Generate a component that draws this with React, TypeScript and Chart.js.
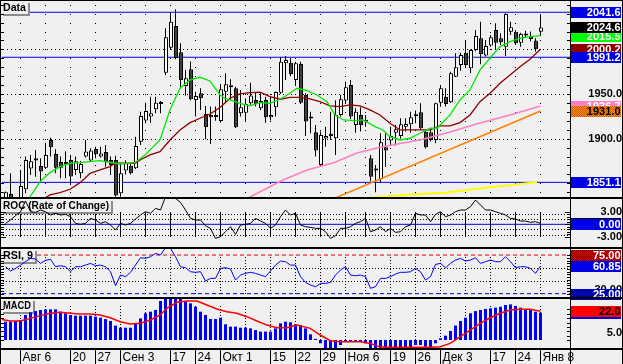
import { useEffect, useRef } from 'react';
import { Chart, registerables } from 'chart.js';

Chart.register(...registerables);

// ---------------- data ----------------
const openP = [1828,1838,1826,1830,1843.4,1866.5,1878.1,1869.5,1867.6,1898.6,
  1882.9,1874,1874,1876.2,1865,1861.3,1880,1875.5,1888.5,1880,
  1885.2,1876.2,1876.2,1838.9,1864.3,1869.8,1866.9,1896.7,1920.3,1924.8,
  1933,1938.8,1974,2002,2026.3,1996.8,1959.1,1977.8,1943.4,1950.9,
  1927.7,1926.6,1926.6,1919.9,1952.7,1958,1956.5,1928.5,1929.2,1939.7,
  1943.4,1934.1,1943.4,1924,1935.2,1951.6,1984.5,1985.2,1965.8,1983.7,
  1949,1923,1907.2,1870.6,1900.1,1905.5,1900.5,1926.6,1942.7,1960.2,
  1915.4,1926.6,1919.5,1878.1,1864.4,1855,1890.4,1897.9,1906.8,1903.1,
  1913.5,1916.2,1925.2,1929.6,1907.9,1907.2,1898.6,1940.4,1947.1,1940.8,
  1969.5,1982.6,1996.4,1978.9,1999.4,2012.5,1993.1,2004.3,2021.8,2012.5,
  2003.1,2019.9,2019.9,2007.6,2017.3,2015.1,2009.9,2019.9];
const highP = [1841,1861.3,1832,1865,1880,1881.8,1887.4,1878,1895.6,1901.2,
  1888.2,1880,1885.6,1881.8,1880,1875.1,1898.6,1889.3,1891.1,1891.1,
  1893,1880,1881,1872,1876,1872.5,1902.3,1930.3,1940.4,1947.1,
  1947.1,1942.3,2023.7,2041.6,2045,2006.9,1977,1986.4,1952.7,1956.5,
  1936.7,1936,1936,1961.3,1973.3,1966.6,1958.3,1954.6,1945.3,1962.8,
  1951.6,1950.9,1947.1,1947.1,1953,1991.2,1992.7,1990.1,1986.3,1986.3,
  1950.9,1930.3,1915.4,1908,1913.5,1930.3,1943,1949,1964,1965.8,
  1934.1,1935.2,1926.6,1881.8,1870.6,1906.1,1906.1,1913.5,1915.4,1922.9,
  1922.9,1930.3,1931.5,1939.7,1909.8,1910.6,1940.4,1960.2,1956.5,1975,
  1995.6,1996.4,2009.9,2000.2,2021.8,2031.1,2010.6,2016.2,2029.3,2018.1,
  2040.4,2031.1,2021.8,2018.8,2021,2020,2012.5,2039.7];
const lowP = [1822,1825,1820,1825,1839,1859.4,1857.5,1852,1866,1880,
  1861.3,1855.7,1855.7,1848.2,1859.4,1855.7,1879,1874,1878.1,1879,
  1868.7,1859.4,1835,1835,1860,1860,1866,1893,1917.3,1918,
  1928.5,1928.5,1971.4,2000,1989,1956.5,1948,1943,1924.8,1932.2,
  1899.4,1894.1,1920,1918,1939.7,1943.4,1912,1924.8,1919.2,1938,
  1936,1932,1918,1920.3,1924.8,1950,1965.8,1970,1960.2,1939,
  1903.1,1906.1,1880,1868.7,1891.1,1898.6,1881.8,1925,1940,1922,
  1906.8,1908,1913.5,1852,1840,1851.2,1868.7,1892.3,1892.3,1900,
  1908,1906.8,1917.3,1910,1889,1897,1894.9,1935.9,1936,1940,
  1969,1976,1980,1973.3,1998,1983.4,1992,2003,1999.4,2005,
  1992.7,2016.2,2005,2003.1,2013,2009,1997.5,2015.1];
const closeP = [1840,1830,1830,1847.1,1876.2,1874.7,1875.5,1863.2,1881.8,1890.4,
  1867.6,1867.6,1871.7,1857.6,1874.7,1871.7,1885.6,1886.7,1882.6,1883.3,
  1873.6,1870.6,1836.3,1861.3,1872.5,1861.3,1891.9,1925.5,1931.1,1928.5,
  1940.4,1939.4,2013.6,2031.1,1990.1,1965.8,1967.7,1944.2,1947.9,1945.3,
  1912.8,1924,1924,1955.4,1961,1957.6,1912.8,1935.2,1938.9,1948.3,
  1938.6,1942.3,1924,1926.6,1952.4,1986.3,1988.2,1972.5,1984.5,1940.4,
  1919.2,1922.5,1886.7,1904.2,1903.1,1903,1926.6,1944.2,1957.6,1924.8,
  1930.3,1915.4,1919,1857.5,1864.3,1896,1886.7,1903.1,1910.6,1916.2,
  1916.5,1924,1925.1,1911.7,1890.4,1898.6,1939.7,1956.5,1938.9,1973.3,
  1980,1993.8,1982.6,1999.4,2015.1,1994.9,2003.9,2013.6,2007.6,2008,
  2039.7,2024.8,2006.9,2017.3,2015.5,2011.7,2000.2,2024.6];

// moving averages / trend lines as [barIndex, value]
const fastMA: [number, number][] = [[4.6,1832.5],[5.6,1840.8],[6.9,1852],[8.9,1862],[10.9,1868.7],[12.9,1872.5],[14.9,1873.2],[16.9,1874.3],[18.9,1875.5],[20.9,1873.4],[22.9,1871.7],[25.9,1873.2],[27.9,1881.8],[30.9,1898.6],[32.9,1932.2],[34.9,1956.5],[36.9,1965.8],[38.9,1968.8],[40.9,1964.7],[42.9,1949],[43.9,1945],[44.9,1943.4],[46.9,1939.7],[48.9,1936.7],[50.9,1940.4],[52.9,1939.7],[54.9,1944.2],[56.9,1950.9],[58.3,1956.5],[60.3,1953.9],[62.3,1949],[64.3,1941.5],[65.9,1926.6],[67.6,1921],[69.9,1920.3],[71.5,1921],[73.9,1913.5],[75.5,1909.8],[76.9,1902.3],[78.9,1898.6],[80.9,1900.5],[82.9,1906.1],[84.9,1911.7],[86.3,1911.7],[87.9,1921],[88.9,1926.6],[90.9,1943.4],[92.9,1954.6],[94.9,1977],[96.9,1990.1],[98.9,2003.1],[100.9,2008.7],[102.9,2012.5],[104.9,2014.3],[107,2015.5]];
const slowMA: [number, number][] = [[7.6,1832.5],[8.9,1837],[10.9,1839.6],[12.9,1843.4],[14.9,1850.8],[15.9,1855.7],[16.9,1861.3],[18.9,1865],[20.9,1868.7],[21.9,1872.5],[25.9,1872.5],[26.9,1876.2],[28.9,1881.8],[30.9,1885.6],[32.9,1898.6],[34.9,1909.8],[36.9,1918],[38.9,1922.9],[40.9,1927.7],[42.9,1935],[44.9,1945.3],[46.9,1950.1],[48.9,1951.6],[50.9,1952],[52.9,1947.1],[54.9,1944.2],[56.9,1946.4],[58.9,1946.4],[60.9,1944.5],[62.9,1941.5],[64.9,1936.7],[66.9,1935.9],[68.9,1937.8],[70.9,1936.7],[72.9,1932.2],[74.9,1926.6],[76.9,1917.3],[78.9,1909.8],[84.9,1909.8],[86.9,1914.3],[88.9,1914.3],[90.9,1918],[92.9,1926.6],[94.9,1941.5],[96.9,1950.9],[98.9,1962.1],[100.9,1971.4],[102.9,1980.7],[104.9,1989],[107,2000.2]];
const pinkMA: [number, number][] = [[48.5,1833.6],[55.5,1853.8],[60.3,1865],[65.5,1872.8],[70.3,1884],[74.3,1889.6],[78.9,1894.7],[82.9,1898.6],[88.9,1907.5],[94.9,1917.6],[100.9,1926.6],[107,1936.7]];
const trendLine: [number, number][] = [[65,1831.3],[107,1931.0]];
const yellowMA: [number, number][] = [[70.9,1832.5],[74.9,1835],[81.5,1837.8],[87.9,1839.6],[96.9,1845.6],[106.3,1851.2]];

const rocVals = [0.23,1.03,2.07,3.03,5.6,3.03,2.87,3.43,3.03,2.23,
  2.63,2.23,2.39,1.83,0.23,0.0,0.23,1.43,1.03,0.23,
  0.63,-0.17,-1.37,0.23,-0.17,0.23,1.27,2.23,3.03,2.63,
  3.83,3.43,6.6,7.0,6.2,5.27,3.43,1.43,1.03,1.03,
  -0.33,-0.97,-3.37,-2.97,-1.77,-0.57,-2.41,-0.17,0.0,0.23,
  1.43,0.79,0.23,-0.97,-0.17,1.83,3.43,2.23,2.63,-0.17,
  -0.57,-0.73,-0.97,-0.97,-1.77,-3.37,-2.73,-0.97,-0.97,-0.57,
  0.23,0.63,1.43,-1.77,-1.37,-0.57,-1.77,-0.97,-1.93,-1.77,
  -0.57,-0.17,2.63,2.23,2.23,0.63,2.39,3.03,1.83,2.23,
  3.03,3.43,3.43,4.23,5.83,4.63,3.43,3.43,3.03,2.63,
  2.23,1.43,1.27,0.79,0.79,0.47,0.63,0.23];
const rsiVals = [59.9,54.3,57.7,62.0,66.4,70.7,69.8,64.2,68.1,69.4,
  59.9,61.2,59.9,53.4,59.9,59.9,62.0,64.2,61.2,62.0,
  59.9,53.4,35.3,49.1,47.0,52.6,62.0,71.5,70.7,72.8,
  77.1,75.0,84.5,83.6,72.8,59.9,58.6,53.4,52.6,53.4,
  41.4,44.8,44.8,57.7,58.6,56.9,42.6,49.1,51.3,52.6,
  51.3,49.1,47.0,54.3,62.0,67.2,66.4,62.0,62.0,47.0,
  39.6,36.2,34.0,38.3,38.3,39.6,49.1,55.6,59.9,49.1,
  48.2,49.1,47.0,31.9,34.0,44.8,44.8,47.0,50.4,52.6,
  52.6,53.4,57.7,53.4,42.6,47.0,62.9,64.2,58.6,64.2,
  68.5,70.7,67.2,68.5,71.5,64.2,66.4,68.5,66.4,66.4,
  72.8,66.4,58.6,59.9,59.9,57.7,51.3,60.85];
const macdHist = [14.0,14.0,14.5,15.3,19.1,21.1,22.1,22.9,23.4,23.4,
  23.4,21.6,20.4,19.1,18.6,18.6,18.6,18.6,17.8,17.1,
  16.0,14.5,11.0,9.4,9.4,9.4,12.7,16.5,20.4,21.6,
  22.9,29.8,33,33,33,32,29.8,28.0,25.4,21.6,
  19.1,16.0,16.0,17.1,12.0,10.2,10.2,9.4,9.4,8.9,
  7.6,6.4,6.4,6.4,8.9,12.7,14.0,13.5,12.0,11.4,
  8.9,4.3,0.8,-2.5,-7,-7,-7,-3.8,-1.3,-1.3,
  -1.3,-1.3,-2.5,-7,-7,-7,-7,-7,-7,-7,
  -7,-7,-3.8,-3.8,-5.1,-5.9,-2.5,1.3,3.3,6.9,
  11.0,14.5,17.0,20.4,22.1,22.9,23.7,24.2,24.7,25.4,
  26.7,27.2,26.0,24.7,23.7,23.7,21.6,20.8];
const macdSignal: [number, number][] = [[-1.06,16.0],[0.94,14.5],[2.94,14.5],[4.94,16.5],[6.94,18.6],[8.94,20.4],[10.94,21.1],[12.94,20.4],[14.94,19.8],[16.94,19.8],[18.94,19.1],[20.94,17.0],[22.94,14.0],[24.94,12.2],[26.94,12.7],[28.94,15.3],[30.94,19.1],[32.28,24.2],[34.28,28.8],[36.28,29.8],[38.28,29.8],[40.28,26.7],[42.28,23.7],[44.28,21.6],[46.28,20.4],[48.28,17.8],[50.28,14.5],[52.28,11.4],[54.28,9.4],[56.28,9.4],[58.28,11.4],[60.94,8.9],[62.94,3.8],[64.94,-0.5],[66.94,-1.3],[70.94,-1.3],[72.94,-2.6],[74.94,-5.4],[76.94,-5.6],[84.94,-5.6],[86.94,-5.1],[88.94,-2.6],[90.94,2.5],[92.94,7.6],[94.94,12.7],[96.94,17.0],[98.94,20.4],[100.94,22.9],[102.94,23.4],[104.94,23.4],[107,22.0]];

const priceLevels = [2041.6, 1991.2, 1851.1];
const rocLevel = 0;
const rsiLevels = [75, 25];
const mainGrid = [1900, 1950, 2000];
const mainTicks = [1900, 1950];
const rocTicks = [-3, 3];
const rsiTicks = [30];
const macdTicks = [5];
const rocDots = [-2.5, -1.2, 1.2, 2.5];
const rsiDots = [41.7, 58.3];
const weekIdx = [3, 8, 13, 18, 23, 28, 33, 38, 43, 48, 53, 58, 63, 68, 72, 77, 82, 87, 92, 97, 102, 107];
const xTickIdx = [3, 13, 18, 23, 33, 38, 43, 53, 58, 63, 68, 77, 82, 87, 97, 102, 107];
const xTickLabels = ['Авг 6', '20', '27', 'Сен 3', '17', '24', 'Окт 1', '15', '22', '29', 'Ноя 6', '19', '26', 'Дек 3', '17', '24', 'Янв 8'];
const panelTitles = ['Data', 'ROC (Rate of Change)', 'RSI, 9', 'MACD'];

// ---------------- layout / style ----------------
const W = 623, H = 364;
const BG = '#f0f0f0';
const FF = '"Liberation Sans", Arial, Helvetica, sans-serif';
const BOLD = `bold 11px ${FF}`;
const AXIS_X = 570;
const AXIS_W = 52;
const LABEL_RIGHT = 620.5;
const X_MIN = -0.7, X_MAX = 112.9;
const BLUE = '#0000e8';
const titleMaxW = [23, 106, 30, 28];

const last = <T,>(a: T[]) => a[a.length - 1];
const pts = (a: [number, number][]) => a.map(([x, y]) => ({ x, y }));
const seq = (a: number[]) => a.map((y, x) => ({ x, y }));

function textW(t: string, font: string) {
  const c = document.createElement('canvas').getContext('2d') as CanvasRenderingContext2D;
  c.font = font;
  return c.measureText(t).width;
}

function dither(ctx: CanvasRenderingContext2D, a: string, b: string) {
  const p = document.createElement('canvas');
  p.width = 2; p.height = 2;
  const g = p.getContext('2d') as CanvasRenderingContext2D;
  g.fillStyle = a; g.fillRect(0, 0, 2, 2);
  g.fillStyle = b; g.fillRect(0, 0, 1, 1); g.fillRect(1, 1, 1, 1);
  return ctx.createPattern(p, 'repeat') as CanvasPattern;
}

function yAxis(min: number, max: number, stackWeight: number, weight: number, ticks: number[], digits: number) {
  const fmt = (v: number) => v.toFixed(digits);
  const widest = Math.max(...ticks.map(v => textW(fmt(v), BOLD)));
  return {
    type: 'linear', position: 'right', stack: 'panels', stackWeight, weight, min, max,
    beginAtZero: false,
    grid: { display: false, drawTicks: false }, border: { display: false },
    afterBuildTicks: (s: any) => { s.ticks = ticks.map(v => ({ value: v })); },
    afterFit: (s: any) => { s.width = AXIS_W; s.paddingTop = 0; s.paddingBottom = 0; },
    ticks: {
      font: { family: FF, size: 11, weight: 'bold' }, color: '#000', crossAlign: 'far',
      padding: LABEL_RIGHT - AXIS_X - widest,
      callback: (v: any) => fmt(Number(v)),
    },
  };
}

const decor = {
  id: 'decor',
  beforeDraw(chart: any) {
    const { ctx } = chart;
    ctx.save(); ctx.fillStyle = BG; ctx.fillRect(0, 0, chart.width, chart.height); ctx.restore();
  },
  beforeDatasetsDraw(chart: any) {
    const { ctx, chartArea, scales } = chart;
    const { x, yMain, yRoc, yRsi, yMacd } = scales;
    const L = Math.ceil(chartArea.left), R = Math.floor(chartArea.right);
    const cols = weekIdx.map(i => Math.floor(x.getPixelForValue(i)));
    const py = (s: any, v: number) => Math.round(s.getPixelForValue(v));
    ctx.save();
    ctx.fillStyle = '#000';
    // main: vertical dotted at every 10 price units, horizontal dotted levels
    for (const c of cols) {
      for (let v = 1840; v <= 2050; v += 10) {
        const y = py(yMain, v);
        if (y > yMain.top + 1 && y < yMain.bottom - 1) ctx.fillRect(c, y, 1, 1);
      }
    }
    for (const v of mainGrid) { const y = py(yMain, v); for (let xx = L + 1; xx < R; xx += 4) ctx.fillRect(xx, y, 1, 1); }
    // ROC: solid verticals between +3 / -3, dotted rows
    const r3 = py(yRoc, 3), rm3 = py(yRoc, -3);
    for (const c of cols) ctx.fillRect(c, r3, 1, rm3 - r3);
    for (const v of rocDots) { const y = py(yRoc, v); for (let xx = L + 1; xx < R; xx += 3) ctx.fillRect(xx, y, 1, 1); }
    // RSI: dotted verticals between 75 / 25, dotted rows
    const s75 = py(yRsi, rsiLevels[0]), s25 = py(yRsi, rsiLevels[1]);
    for (const c of cols) for (let y = s75 + 2; y < s25; y += 3) ctx.fillRect(c, y, 1, 1);
    for (const v of rsiDots) { const y = py(yRsi, v); for (let xx = L + 1; xx < R; xx += 3) ctx.fillRect(xx, y, 1, 1); }
    // MACD: dotted verticals
    const m1 = py(yMacd, 26), m0 = py(yMacd, 0);
    for (const c of cols) for (let y = m1; y < m0; y += 3) ctx.fillRect(c, y, 1, 1);
    ctx.restore();
  },
  afterDatasetDraw(chart: any, args: any) {
    const ds = chart.data.datasets[args.index];
    if (!ds || !ds.titleHook) return;
    const { ctx, scales } = chart;
    const tops = [1, scales.yRoc.top + 1, scales.yRsi.top + 1, scales.yMacd.top + 1];
    ctx.save();
    ctx.font = BOLD;
    panelTitles.forEach((t, k) => {
      const w = Math.min(ctx.measureText(t).width, titleMaxW[k]);
      const top = Math.round(tops[k]);
      ctx.fillStyle = '#8c8c8c'; ctx.fillRect(3, top + 2, w + 4, 13);
      ctx.fillStyle = BG; ctx.fillRect(1, top, w + 4, 13);
      ctx.fillStyle = '#000'; ctx.textAlign = 'left'; ctx.textBaseline = 'alphabetic';
      ctx.fillText(t, 3, top + 10, titleMaxW[k]);
    });
    ctx.restore();
  },
  afterDraw(chart: any) {
    const { ctx, scales } = chart;
    const { x, yMain, yRoc, yRsi, yMacd } = scales;
    const py = (s: any, v: number) => Math.round(s.getPixelForValue(v));
    ctx.save();
    ctx.fillStyle = '#000';
    const comb = (s: any, from: number, to: number, step: number, len: number) => {
      for (let v = from; v <= to + 1e-6; v += step) {
        const y = py(s, v);
        if (y > s.top + 1 && y < s.bottom - 1) { ctx.fillRect(AXIS_X - len, y, len, 1); ctx.fillRect(1, y, len, 1); }
      }
    };
    comb(yMain, 1840, 2050, 10, 3);
    comb(yRoc, -3, 3, 0.6, 3);
    comb(yRoc, -3, 3, 3, 5);
    comb(yRsi, 25, 75, 50 / 14, 3);
    comb(yMacd, 0, 25, 10 / 3, 3);

    const box = (s: any, v: number, bg: any, fg: string, text: string) => {
      const y = py(s, v);
      ctx.fillStyle = bg; ctx.fillRect(AXIS_X + 1, y - 5, W - AXIS_X - 3, 11);
      ctx.fillStyle = fg; ctx.font = BOLD; ctx.textAlign = 'right'; ctx.textBaseline = 'alphabetic';
      ctx.fillText(text, LABEL_RIGHT, y + 4);
    };
    const orangeP = dither(ctx, '#ff8c1a', '#c85a00');
    const redP = dither(ctx, '#e00000', '#800000');
    const blueP = dither(ctx, '#0000e0', '#000070');
    box(yMain, last(pinkMA)[1], '#ff80c0', '#fff', last(pinkMA)[1].toFixed(1));
    box(yMain, last(trendLine)[1], orangeP, '#000', last(trendLine)[1].toFixed(1));
    box(yMain, last(slowMA)[1], '#8b0000', '#fff', last(slowMA)[1].toFixed(1));
    box(yMain, last(fastMA)[1], '#00ff00', '#fff', last(fastMA)[1].toFixed(1));
    box(yMain, last(closeP), '#000', '#fff', last(closeP).toFixed(1));
    box(yMain, last(yellowMA)[1], '#ffff00', '#000', last(yellowMA)[1].toFixed(1));
    priceLevels.forEach(v => box(yMain, v, BLUE, '#fff', v.toFixed(1)));
    box(yRoc, last(rocVals), '#000', '#fff', last(rocVals).toFixed(2));
    box(yRoc, rocLevel, BLUE, '#fff', rocLevel.toFixed(2));
    box(yRsi, rsiLevels[0], redP, '#fff', rsiLevels[0].toFixed(2));
    box(yRsi, last(rsiVals), BLUE, '#fff', last(rsiVals).toFixed(2));
    box(yRsi, rsiLevels[1], blueP, '#fff', rsiLevels[1].toFixed(2));
    box(yMacd, last(macdHist), BLUE, '#fff', last(macdHist).toFixed(1));
    box(yMacd, last(macdSignal)[1], '#ff0000', '#000', last(macdSignal)[1].toFixed(1));

    // frame and separators
    ctx.fillStyle = '#000';
    ctx.fillRect(0, 0, W, 1);
    ctx.fillRect(0, 0, 1, H);
    ctx.fillRect(W - 1, 0, 1, H);
    ctx.fillRect(AXIS_X, 0, 1, H);
    [yMain.bottom, yRoc.bottom, yRsi.bottom].forEach((b: number) => ctx.fillRect(0, Math.round(b) - 1, W, 2));
    const xb = Math.round(yMacd.bottom);
    ctx.fillRect(0, xb, W, 2);
    xTickIdx.forEach(i => ctx.fillRect(Math.floor(x.getPixelForValue(i)), xb + 2, 1, H - xb));
    ctx.restore();
  },
};

function buildConfig(): any {
  const refLine = (axis: string, v: number, color: string, order: number, dash: number[] = [], hook = false) => ({
    type: 'line', yAxisID: axis, xAxisID: 'x', data: [{ x: X_MIN, y: v }, { x: X_MAX, y: v }],
    borderColor: color, borderWidth: 1, borderDash: dash, pointRadius: 0, order, titleHook: hook,
  });
  const line = (axis: string, data: any[], color: string, width: number, order: number) => ({
    type: 'line', yAxisID: axis, xAxisID: 'x', data, borderColor: color, borderWidth: width,
    pointRadius: 0, tension: 0, fill: false, order,
  });
  const datasets = [
    refLine('yMain', priceLevels[0], BLUE, 46),
    refLine('yMain', priceLevels[1], BLUE, 45),
    refLine('yMain', priceLevels[2], BLUE, 44),
    refLine('yRoc', rocLevel, BLUE, 43),
    refLine('yRsi', rsiLevels[0], '#e00000', 42, [4, 3]),
    refLine('yRsi', rsiLevels[1], '#0000e0', 41, [4, 3], true),
    {
      type: 'bar', yAxisID: 'yMain', xAxisID: 'x', grouped: false, order: 30,
      data: lowP.map((l, i) => ({ x: i, y: [l, highP[i]] })),
      backgroundColor: '#000', borderWidth: 0, maxBarThickness: 1, barThickness: 1, inflateAmount: 0,
    },
    {
      type: 'bar', yAxisID: 'yMain', xAxisID: 'xBody', grouped: false, order: 29,
      data: openP.map((o, i) => ({ x: i, y: [o, closeP[i]] })),
      backgroundColor: openP.map((o, i) => (closeP[i] >= o ? '#ffffff' : '#404040')),
      borderColor: '#000', borderWidth: 1, borderSkipped: false, maxBarThickness: 4, barThickness: 4,
      minBarLength: 2, inflateAmount: 0,
    },
    line('yMain', pts(yellowMA), '#ffff00', 2, 20),
    line('yMain', pts(trendLine), '#ff7f00', 1.5, 19),
    line('yMain', pts(pinkMA), '#ff80c0', 1.5, 18),
    line('yMain', pts(slowMA), '#900000', 1.3, 17),
    line('yMain', pts(fastMA), '#00e800', 1.3, 16),
    line('yRoc', seq(rocVals), '#000', 1, 10),
    line('yRsi', seq(rsiVals), '#0000ff', 1, 10),
    {
      type: 'bar', yAxisID: 'yMacd', xAxisID: 'x', grouped: false, order: 12,
      data: macdHist.map((v, i) => ({ x: i, y: [0, v] })),
      backgroundColor: '#0000ff', borderWidth: 0, maxBarThickness: 3, barThickness: 3, inflateAmount: 0,
    },
    line('yMacd', pts(macdSignal), '#ff0000', 1.5, 5),
  ];
  return {
    type: 'bar',
    data: { datasets },
    plugins: [decor],
    options: {
      animation: false, responsive: false, devicePixelRatio: 1, events: [],
      layout: { padding: { top: 2, left: 2, right: 1, bottom: 0 } },
      plugins: { legend: { display: false }, tooltip: { enabled: false }, title: { display: false } },
      scales: {
        x: {
          type: 'linear', position: 'bottom', min: X_MIN, max: X_MAX, offset: false,
          grid: { display: false, drawTicks: false }, border: { display: false },
          afterBuildTicks: (s: any) => { s.ticks = xTickIdx.map(v => ({ value: v })); },
          afterFit: (s: any) => { s.height = 16; s.paddingLeft = 0; s.paddingRight = 0; },
          ticks: {
            autoSkip: false, maxRotation: 0, minRotation: 0, align: 'start', labelOffset: 2, padding: 2,
            font: { family: FF, size: 12 }, color: '#000',
            callback: (_v: any, idx: number) => xTickLabels[idx],
          },
        },
        xBody: {
          type: 'linear', position: 'bottom', display: false, offset: false,
          min: X_MIN - 0.1, max: X_MAX - 0.1,
        },
        yMain: yAxis(1833.6, 2053.1, 196, 1, mainTicks, 1),
        yRoc: yAxis(-5.68, 6.31, 50, 2, rocTicks, 2),
        yRsi: yAxis(19.4, 84.1, 50, 3, rsiTicks, 2),
        yMacd: yAxis(-6.1, 32.06, 50, 4, macdTicks, 1),
      },
    },
  };
}

export default function App() {
  const ref = useRef<HTMLCanvasElement>(null);
  useEffect(() => {
    document.body.style.margin = '0';
    Chart.defaults.font.family = FF;
    const chart = new Chart(ref.current as HTMLCanvasElement, buildConfig());
    return () => chart.destroy();
  }, []);
  return (
    <div style={{ width: W, height: H, overflow: 'hidden' }}>
      <canvas ref={ref} width={W} height={H} style={{ display: 'block', width: W, height: H }} />
    </div>
  );
}
